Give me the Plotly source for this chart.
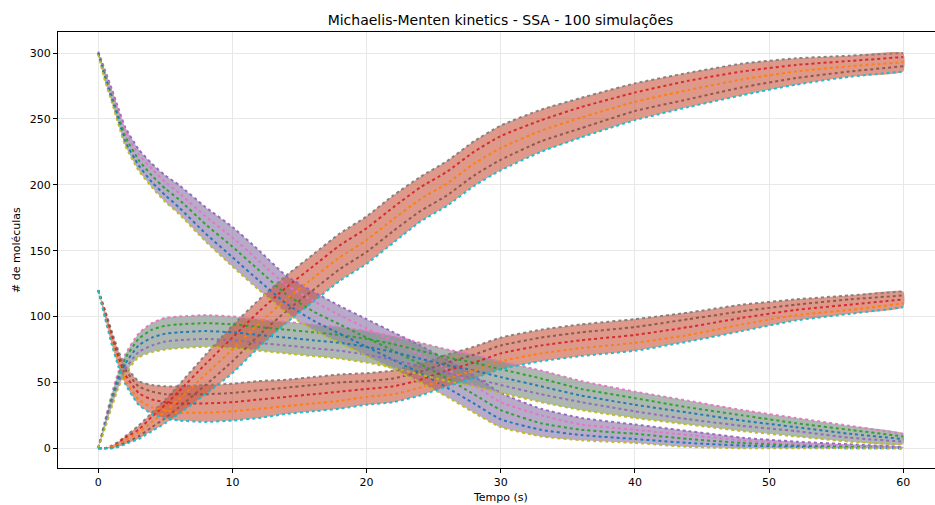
import plotly.graph_objects as go

T = [0, 0.5, 1, 1.5, 2, 3, 4, 5, 6, 8, 10, 12, 14, 16, 18, 20, 22, 24, 26, 28, 30, 33, 36, 40, 44, 48, 52, 56, 60]

# Substrate S (starts at 300) - band edges and representative trajectories
S_hi  = [301, 287, 273, 258, 244, 227, 216, 207, 200, 183, 168, 150, 131, 119, 108, 98, 88, 78, 67, 55, 42, 30, 23, 18, 13, 8, 5, 3, 1]
S_a   = [300, 285, 271, 255, 241, 223, 212, 202, 194, 176, 160, 142, 124, 112, 101, 91, 81, 71, 60, 48, 35, 25, 18, 14, 10, 6, 3, 2, 0]
S_mid = [300, 283, 268, 252, 237, 219, 207, 197, 189, 170, 153, 135, 117, 104, 94, 84, 74, 64, 53, 41, 29, 19, 14, 11, 7, 4, 2, 1, 0]
S_b   = [300, 281, 265, 249, 233, 215, 202, 192, 183, 163, 145, 127, 110, 97, 87, 77, 67, 57, 46, 34, 22, 14, 10, 7, 4, 2, 1, 0, 0]
S_lo  = [299, 279, 263, 246, 230, 211, 198, 187, 178, 157, 138, 120, 103, 90, 80, 70, 60, 50, 39, 27, 16, 9, 6, 4, 1, 0, 0, 0, 0]

# Enzyme E (starts at 120)
E_hi  = [120, 105, 89, 74, 63, 51, 48, 47, 47, 48, 49, 51, 52, 54, 56, 57, 59, 64, 71, 77, 84, 90, 94, 98, 103, 109, 113, 116, 119]
E_a   = [120, 104, 87, 71, 60, 47, 43, 41, 41, 41, 42, 44, 46, 48, 50, 51, 53, 58, 65, 71, 78, 84, 88, 92, 98, 104, 109, 113, 116]
E_mid = [120, 102, 84, 68, 56, 42, 37, 35, 34, 34, 35, 37, 39, 41, 43, 45, 47, 52, 59, 65, 72, 78, 82, 86, 92, 99, 105, 109, 113]
E_b   = [120, 100, 81, 65, 52, 37, 31, 29, 27, 27, 28, 30, 32, 34, 36, 39, 41, 46, 53, 59, 66, 72, 76, 80, 86, 94, 101, 105, 110]
E_lo  = [120, 99, 79, 62, 49, 33, 26, 23, 21, 20, 21, 23, 26, 28, 30, 33, 35, 40, 47, 53, 60, 66, 70, 74, 81, 89, 97, 102, 107]

# Complex C (starts at 0)
C_hi  = [0, 21, 41, 58, 71, 87, 95, 99, 100, 101, 100, 98, 96, 94, 92, 89, 85, 80, 75, 71, 66, 59, 51, 43, 36, 29, 23, 17, 11]
C_a   = [0, 19, 38, 55, 68, 83, 90, 93, 94, 95, 94, 92, 90, 88, 86, 83, 79, 74, 69, 65, 60, 53, 45, 38, 31, 25, 19, 14, 9]
C_mid = [0, 18, 36, 52, 64, 78, 84, 87, 88, 89, 88, 86, 84, 82, 80, 77, 73, 68, 63, 59, 54, 47, 40, 33, 27, 21, 16, 11, 7]
C_b   = [0, 17, 34, 49, 60, 73, 78, 81, 82, 83, 82, 80, 78, 76, 74, 71, 67, 62, 57, 53, 48, 41, 35, 28, 22, 17, 13, 8, 5]
C_lo  = [0, 15, 31, 46, 57, 69, 73, 75, 76, 77, 76, 74, 72, 70, 68, 65, 61, 56, 51, 47, 42, 35, 29, 23, 18, 13, 9, 5, 3]

# Product P (starts at 0)
P_hi  = [0, 0, 2, 5, 9, 17, 27, 37, 48, 71, 93, 113, 131, 147, 163, 176, 192, 206, 218, 233, 245, 257, 266, 277, 285, 292, 296, 298, 300]
P_a   = [0, 0, 1, 4, 8, 14, 24, 33, 43, 64, 84, 104, 122, 138, 154, 167, 183, 198, 210, 225, 237, 249, 259, 270, 279, 286, 291, 294, 297]
P_mid = [0, 0, 1, 3, 6, 12, 20, 28, 37, 56, 75, 95, 113, 129, 145, 158, 174, 189, 201, 216, 228, 241, 251, 263, 272, 280, 286, 290, 293]
P_b   = [0, 0, 0, 2, 4, 9, 16, 23, 31, 48, 66, 86, 104, 120, 136, 149, 165, 180, 192, 207, 219, 233, 243, 256, 265, 274, 281, 286, 290]
P_lo  = [0, 0, 0, 1, 3, 7, 13, 19, 26, 41, 57, 77, 95, 111, 127, 140, 156, 172, 184, 199, 211, 225, 236, 249, 259, 268, 276, 282, 286]

X_TICKS = [0, 10, 20, 30, 40, 50, 60]
Y_TICKS = [0, 50, 100, 150, 200, 250, 300]

TITLE = "Michaelis-Menten kinetics - SSA - 100 simulações"
XLABEL = "Tempo (s)"
YLABEL = "# de moléculas"

TAB = {
    "blue": "#1f77b4", "orange": "#ff7f0e", "green": "#2ca02c", "red": "#d62728",
    "purple": "#9467bd", "brown": "#8c564b", "pink": "#e377c2", "gray": "#7f7f7f",
    "olive": "#bcbd22", "cyan": "#17becf",
}

species = [
    ("S", [S_hi, S_a, S_mid, S_b, S_lo], ["purple", "pink", "green", "blue", "olive"], "rgba(140,120,170,0.62)"),
    ("E", [E_hi, E_a, E_mid, E_b, E_lo], ["gray", "brown", "red", "orange", "cyan"], "rgba(200,80,55,0.58)"),
    ("C", [C_hi, C_a, C_mid, C_b, C_lo], ["pink", "green", "blue", "purple", "olive"], "rgba(125,140,130,0.62)"),
    ("P", [P_hi, P_a, P_mid, P_b, P_lo], ["gray", "red", "orange", "brown", "cyan"], "rgba(200,80,55,0.58)"),
]

fig = go.Figure()

# band fills
for name, lines, cols, fillc in species:
    hi, lo = lines[0], lines[-1]
    fig.add_trace(go.Scatter(
        x=T + T[::-1], y=hi + lo[::-1], fill="toself", fillcolor=fillc,
        mode="lines", line=dict(width=0, shape="spline", smoothing=0.5),
        hoverinfo="skip", showlegend=False,
    ))

# representative trajectories, interleaved like the simulation loop
for k in range(5):
    for name, lines, cols, fillc in species:
        fig.add_trace(go.Scatter(
            x=T, y=lines[k], mode="lines",
            line=dict(color=TAB[cols[k]], width=2, dash="dot", shape="spline", smoothing=0.5),
            opacity=0.95, showlegend=False, name=name,
        ))

font = dict(family="DejaVu Sans", size=11, color="#000000")

fig.update_layout(
    width=935, height=505,
    margin=dict(l=58, r=0, t=32, b=37),
    paper_bgcolor="white", plot_bgcolor="white",
    font=font,
    title=dict(text=TITLE, x=0.5353, xref="container", xanchor="center",
               y=1 - 20 / 505, yref="container", yanchor="middle",
               font=dict(family="DejaVu Sans", size=14, color="#000000")),
    showlegend=False,
)
fig.update_xaxes(
    range=[-3, 62.37], tickvals=X_TICKS, ticktext=[str(v) for v in X_TICKS],
    showgrid=True, gridcolor="#e8e8e8", gridwidth=1, zeroline=False,
    showline=True, linecolor="#000000", linewidth=1, mirror=True,
    ticks="outside", ticklen=4, tickcolor="#000000", tickfont=font,
)
fig.update_yaxes(
    range=[-15, 316], tickvals=Y_TICKS, ticktext=[str(v) for v in Y_TICKS],
    showgrid=True, gridcolor="#e8e8e8", gridwidth=1, zeroline=False,
    showline=True, linecolor="#000000", linewidth=1, mirror=False,
    ticks="outside", ticklen=4, tickcolor="#000000", tickfont=font,
)
fig.add_annotation(text=XLABEL, xref="paper", yref="paper", x=(500.5 - 58) / 877,
                   y=-(497 - 468) / 436, xanchor="center", yanchor="middle",
                   showarrow=False, font=font)
fig.add_annotation(text=YLABEL, xref="paper", yref="paper", x=(16 - 58) / 877,
                   y=0.5, xanchor="center", yanchor="middle", textangle=-90,
                   showarrow=False, font=font)

fig.write_html("out.html")
